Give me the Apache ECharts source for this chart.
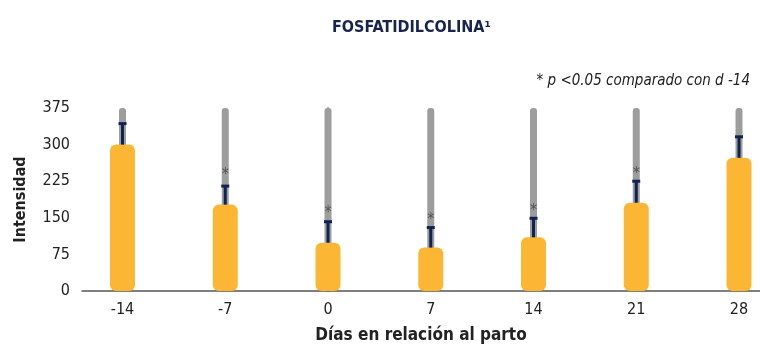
<!DOCTYPE html>
<html>
<head>
<meta charset="utf-8">
<script src="https://cdn.jsdelivr.net/npm/echarts@6/dist/echarts.min.js"></script>
<style>
  html, body { margin: 0; padding: 0; background: #fff; }
  #chart { width: 760px; height: 347px; }
</style>
</head>
<body>
<div id="chart"></div>
<script>
// días en relación al parto
const days = [-14, -7, 0, 7, 14, 21, 28];
// media de intensidad
const means = [300, 177, 99, 89, 110, 181, 273];
// media + error
const errTops = [343, 215, 142, 130, 149, 225, 316];
// posición de los asteriscos (null = sin asterisco)
const stars = [null, 248, 171, 156, 175, 250, null];
const yTicks = [0, 75, 150, 225, 300, 375];

const font = '"DejaVu Sans Condensed", "Liberation Sans Narrow", sans-serif';

const chart = echarts.init(document.getElementById('chart'));

const xBase = {
  type: 'value',
  min: -16.76,
  max: 29.43,
  splitLine: { show: false },
  axisTick: { show: false }
};

const option = {
  animation: false,
  title: [
    {
      text: 'FOSFATIDILCOLINA¹',
      left: 327,
      top: 15,
      textStyle: { fontFamily: font, fontSize: 16, fontWeight: 'bold', color: '#16244f' }
    },
    {
      text: '* p <0.05 comparado con d -14',
      right: 5,
      top: 69,
      textStyle: { fontFamily: font, fontSize: 15, fontStyle: 'italic', fontWeight: 'normal', color: '#222' }
    }
  ],
  grid: { left: 82, right: 0, top: 108, bottom: 56, outerBoundsMode: 'none' },
  xAxis: [
    Object.assign({}, xBase, {
      name: 'Días en relación al parto',
      nameLocation: 'middle',
      nameGap: 36,
      nameTextStyle: { fontFamily: font, fontSize: 17, fontWeight: 'bold', color: '#222' },
      axisLine: { lineStyle: { color: '#555', width: 1.5 } },
      axisLabel: {
        customValues: days,
        margin: 11,
        fontFamily: font,
        fontSize: 16,
        color: '#222'
      }
    }),
    Object.assign({}, xBase, { show: false })
  ],
  yAxis: {
    type: 'value',
    min: 0,
    max: 375,
    interval: 75,
    name: 'Intensidad',
    nameLocation: 'middle',
    nameGap: 53,
    nameTextStyle: { fontFamily: font, fontSize: 16, fontWeight: 'bold', color: '#222' },
    axisLine: { show: true, lineStyle: { color: '#555', width: 1.5 } },
    axisTick: { show: false },
    splitLine: { show: false },
    axisLabel: {
      customValues: yTicks,
      margin: 12,
      fontFamily: font,
      fontSize: 16,
      color: '#222'
    }
  },
  series: [
    {
      // barra gris de fondo hasta 375
      type: 'bar',
      xAxisIndex: 1,
      barWidth: 7,
      data: days.map(d => [d, 375]),
      itemStyle: { color: '#9d9d9d', borderRadius: 3 },
      z: 1
    },
    {
      type: 'bar',
      xAxisIndex: 0,
      barWidth: 25,
      data: days.map((d, i) => [d, means[i]]),
      itemStyle: { color: '#fbb634', borderRadius: 6 },
      z: 2
    },
    {
      // barras de error y asteriscos
      type: 'custom',
      xAxisIndex: 0,
      data: days.map((d, i) => [d, means[i], errTops[i], stars[i]]),
      z: 3,
      renderItem: function (params, api) {
        const p0 = api.coord([api.value(0), api.value(1)]);
        const p1 = api.coord([api.value(0), api.value(2)]);
        const children = [
          {
            type: 'line',
            shape: { x1: p0[0], y1: p0[1], x2: p1[0], y2: p1[1] },
            style: { stroke: '#0f2352', lineWidth: 3 }
          },
          {
            type: 'line',
            shape: { x1: p1[0] - 4, y1: p1[1], x2: p1[0] + 4, y2: p1[1] },
            style: { stroke: '#0f2352', lineWidth: 3 }
          }
        ];
        const s = stars[params.dataIndex];
        if (s != null) {
          const ps = api.coord([api.value(0), s]);
          children.push({
            type: 'text',
            x: ps[0],
            y: ps[1] + 5,
            style: {
              text: '*',
              fontFamily: font,
              fontSize: 16,
              fill: '#555',
              align: 'center',
              verticalAlign: 'middle'
            }
          });
        }
        return { type: 'group', children: children };
      }
    }
  ]
};

chart.setOption(option);
</script>
</body>
</html>
